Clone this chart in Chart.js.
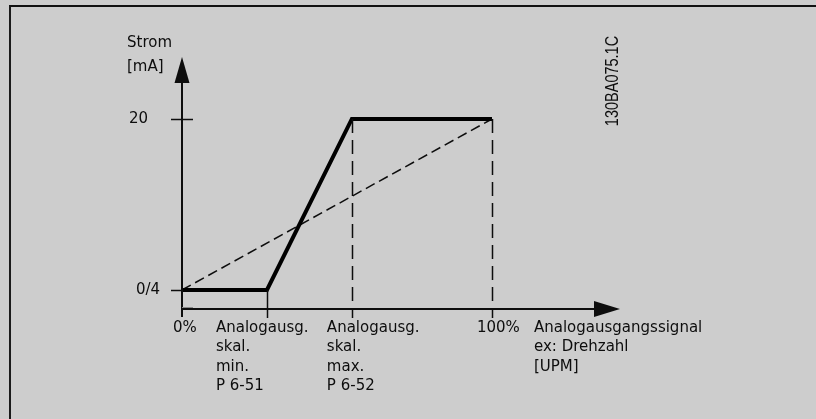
<!DOCTYPE html>
<html>
<head>
<meta charset="utf-8">
<script src="https://cdn.jsdelivr.net/npm/chart.js@4/dist/chart.umd.min.js"></script>
<style>
  html, body { margin: 0; padding: 0; background: #cdcdcd; }
  #wrap { position: relative; width: 816px; height: 419px; }
  #frame {
    position: absolute; left: 9px; top: 5px; right: 0; bottom: 0;
    border-top: 2px solid #111; border-left: 2px solid #1a1a1a;
  }
  canvas { position: absolute; left: 0; top: 0; }
</style>
</head>
<body>
<div id="wrap">
  <div id="frame"></div>
  <canvas id="mainChart" width="816" height="419"></canvas>
</div>
<script>
// output signal (% of range) vs. current (mA)
const signalPct = [0, 27.4, 54.8, 100];
const currentMa = [4, 4, 20, 20];

// plain linear scaling for comparison
const linearPct = [0, 100];
const linearMa = [4, 20];

const yTickValues = [4, 20];
const yTickLabels = ['0/4', '20'];
const yTitle = ['Strom', '[mA]'];

const xTickValues = [0, 27.4, 54.8, 100];
const xTickLabels = [
  ['0%'],
  ['Analogausg.', 'skal.', 'min.', 'P 6-51'],
  ['Analogausg.', 'skal.', 'max.', 'P 6-52'],
  ['100%']
];
const xTitle = ['Analogausgangssignal', 'ex: Drehzahl', '[UPM]'];
const drawingNo = '130BA075.1C';

const FONT = '15px "DejaVu Sans", Verdana, sans-serif';
const INK = '#0d0d0d';

function arrowHead(ctx, x, y, dir) {
  ctx.beginPath();
  if (dir === 'up') {
    ctx.moveTo(x, y);
    ctx.lineTo(x - 7.5, y + 26);
    ctx.lineTo(x + 7.5, y + 26);
  } else {
    ctx.moveTo(x, y);
    ctx.lineTo(x - 26, y - 8);
    ctx.lineTo(x - 26, y + 8);
  }
  ctx.closePath();
  ctx.fill();
}

const diagramPlugin = {
  id: 'diagram',
  afterDatasetsDraw(chart) {
    const { ctx, chartArea, scales } = chart;
    const xs = scales.x, ys = scales.y;
    const x0 = xs.getPixelForValue(0);
    const yAxis = chartArea.bottom;
    const yTop = ys.getPixelForValue(20);

    ctx.save();
    ctx.strokeStyle = INK;
    ctx.fillStyle = INK;

    // dashed guides at max and 100%
    ctx.lineWidth = 1.5;
    ctx.setLineDash([14, 7]);
    [xTickValues[2], xTickValues[3]].forEach(v => {
      const px = Math.round(xs.getPixelForValue(v)) + 0.5;
      ctx.beginPath();
      ctx.moveTo(px, yTop);
      ctx.lineTo(px, yAxis);
      ctx.stroke();
    });
    ctx.setLineDash([]);

    // solid drop at min
    const pMin = Math.round(xs.getPixelForValue(xTickValues[1])) + 0.5;
    ctx.beginPath();
    ctx.moveTo(pMin, ys.getPixelForValue(currentMa[1]));
    ctx.lineTo(pMin, yAxis);
    ctx.stroke();

    // axes
    ctx.lineWidth = 2;
    ctx.beginPath();
    ctx.moveTo(x0, yAxis + 8);
    ctx.lineTo(x0, chartArea.top + 20);
    ctx.moveTo(x0, yAxis);
    ctx.lineTo(chartArea.right - 20, yAxis);
    ctx.stroke();
    arrowHead(ctx, x0, chartArea.top, 'up');
    arrowHead(ctx, chartArea.right, yAxis, 'right');

    // x ticks below the axis
    ctx.lineWidth = 1.5;
    xTickValues.slice(1).forEach(v => {
      const px = Math.round(xs.getPixelForValue(v)) + 0.5;
      ctx.beginPath();
      ctx.moveTo(px, yAxis);
      ctx.lineTo(px, yAxis + 9);
      ctx.stroke();
    });
    ctx.strokeStyle = '#888';
    ctx.lineWidth = 1;
    ctx.beginPath();
    ctx.moveTo(x0, yAxis - 1.5);
    ctx.lineTo(x0 + 11, yAxis - 1.5);
    ctx.stroke();

    // y ticks
    ctx.strokeStyle = INK;
    ctx.lineWidth = 1.5;
    yTickValues.forEach(v => {
      const py = Math.round(ys.getPixelForValue(v)) + 0.5;
      ctx.beginPath();
      ctx.moveTo(x0 - 11, py);
      ctx.lineTo(x0 + (v === 20 ? 11 : 0), py);
      ctx.stroke();
    });

    // texts
    ctx.font = FONT;
    ctx.textBaseline = 'middle';
    ctx.textAlign = 'left';
    const yLabelShift = [-46, -53];
    yTickValues.forEach((v, i) => {
      ctx.fillText(yTickLabels[i], x0 + yLabelShift[i], ys.getPixelForValue(v));
    });
    yTitle.forEach((t, i) => ctx.fillText(t, x0 - 55, 43 + i * 24));

    const lineH = 19.4;
    const xLabelShift = [-9, -51, -25, -15];
    xTickValues.forEach((v, i) => {
      const px = xs.getPixelForValue(v) + xLabelShift[i];
      xTickLabels[i].forEach((t, j) => ctx.fillText(t, px, yAxis + 19 + j * lineH));
    });
    const pEnd = xs.getPixelForValue(100);
    xTitle.forEach((t, j) => ctx.fillText(t, pEnd + 42, yAxis + 19 + j * lineH));

    // drawing number, rotated
    ctx.translate(613, 81);
    ctx.rotate(-Math.PI / 2);
    ctx.scale(1, 1.3);
    ctx.textAlign = 'center';
    ctx.font = '14.5px "Liberation Sans", Arial, sans-serif';
    ctx.fillText(drawingNo, 0, 0);
    ctx.restore();
  }
};

const ctx = document.getElementById('mainChart').getContext('2d');
new Chart(ctx, {
  type: 'scatter',
  data: {
    datasets: [
      {
        label: 'linear',
        data: linearPct.map((x, i) => ({ x, y: linearMa[i] })),
        showLine: true,
        borderColor: INK,
        borderWidth: 1.5,
        borderDash: [10, 5],
        pointRadius: 0,
        order: 2
      },
      {
        label: 'Strom',
        data: signalPct.map((x, i) => ({ x, y: currentMa[i] })),
        showLine: true,
        borderColor: '#000',
        borderWidth: 4,
        borderJoinStyle: 'miter',
        borderCapStyle: 'butt',
        pointRadius: 0,
        order: 1
      }
    ]
  },
  options: {
    responsive: false,
    animation: false,
    events: [],
    layout: { padding: { left: 182, right: 196, top: 57, bottom: 110 } },
    plugins: { legend: { display: false }, tooltip: { enabled: false } },
    scales: {
      x: { type: 'linear', min: 0, max: 141.3, display: false },
      y: { type: 'linear', min: 2.22, max: 25.8, display: false }
    }
  },
  plugins: [diagramPlugin]
});
</script>
</body>
</html>
